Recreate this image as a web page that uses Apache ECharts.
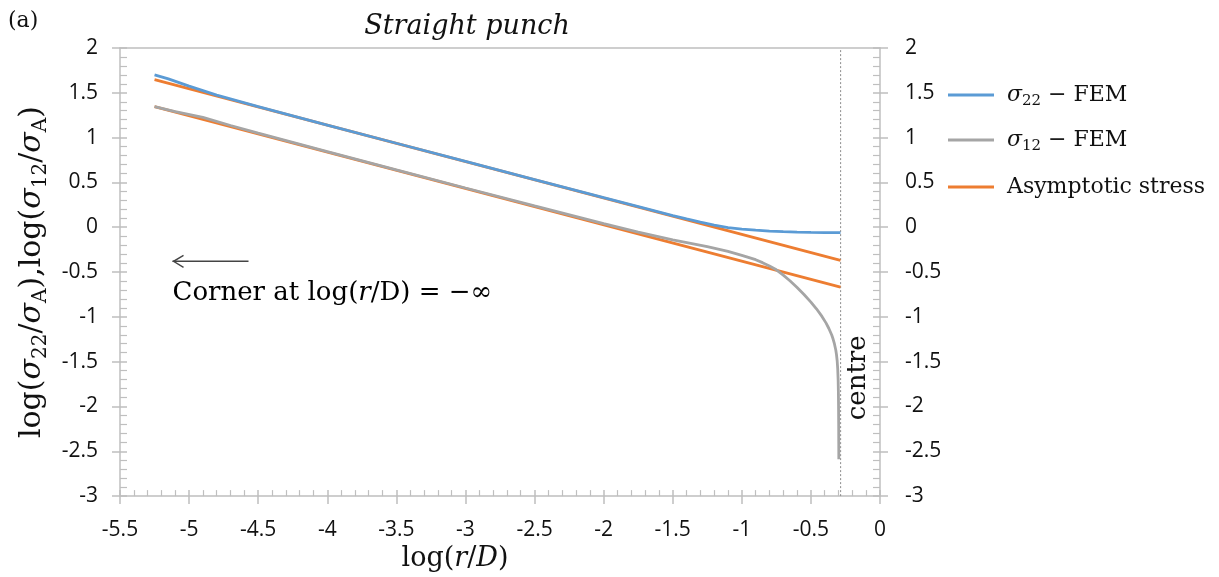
<!DOCTYPE html>
<html>
<head>
<meta charset="utf-8">
<script src="https://cdn.jsdelivr.net/npm/echarts@6/dist/echarts.min.js"></script>
<style>
  html, body { margin: 0; padding: 0; background: #ffffff; }
  #chart { width: 1219px; height: 577px; }
</style>
</head>
<body>
<div id="chart"></div>
<script>
// Axis ranges (log10 scale on both axes)
const xRange = [-5.5, 0];
const yRange = [-3, 2];
const axisStep = 0.5;

// sigma_22 from the FEM model, sampled along log(r/D)
const s22X = [-5.25, -5.15, -5.0, -4.8, -4.5, -4.0, -3.5, -3.0, -2.5, -2.0, -1.7, -1.5, -1.4, -1.3, -1.2, -1.1, -1.0, -0.9, -0.8, -0.7, -0.6, -0.5, -0.4, -0.286];
const s22Y = [1.70, 1.655, 1.575, 1.475, 1.345, 1.14, 0.937, 0.735, 0.532, 0.33, 0.21, 0.13, 0.093, 0.057, 0.024, -0.004, -0.02, -0.033, -0.043, -0.05, -0.055, -0.058, -0.06, -0.061];

// sigma_12 from the FEM model
const s12X = [-5.25, -5.1, -4.9, -4.7, -4.5, -4.0, -3.5, -3.0, -2.5, -2.0, -1.75, -1.5, -1.25, -1.1, -1.0, -0.9, -0.85, -0.8, -0.75, -0.7, -0.65, -0.6, -0.55, -0.5, -0.46, -0.42, -0.39, -0.37, -0.35, -0.34, -0.33, -0.32, -0.315, -0.31, -0.306, -0.303, -0.301, -0.3, -0.299, -0.2985, -0.298];
const s12Y = [1.345, 1.29, 1.225, 1.135, 1.05, 0.843, 0.64, 0.438, 0.238, 0.04, -0.055, -0.14, -0.217, -0.27, -0.313, -0.362, -0.395, -0.432, -0.475, -0.535, -0.60, -0.672, -0.75, -0.835, -0.91, -0.995, -1.07, -1.13, -1.20, -1.245, -1.30, -1.37, -1.42, -1.49, -1.58, -1.70, -1.85, -2.0, -2.2, -2.4, -2.59];

// Asymptotic (singular) stress lines, end points
const asymX = [-5.25, -0.286];
const asymUpperY = [1.646, -0.369];
const asymLowerY = [1.347, -0.668];

// Position of the punch centre
const centreX = -0.285;

// Annotation anchors in data coordinates
const arrowFrom = [-4.57, -0.38];
const arrowTo = [-5.12, -0.38];
const cornerTextAt = [-5.12, -0.74];
const centreTextAt = [-0.16, -1.68];

const BLUE = '#5B9BD5';
const GREY = '#A5A5A5';
const ORANGE = '#ED7D31';
const AXIS = '#BFBFBF';
const SERIF = 'DejaVu Serif';
const SANS = 'Open Sans';

const pairs = (xs, ys) => xs.map((x, i) => [x, ys[i]]);

const mathRich = (size) => ({
  n: { fontFamily: SERIF, fontSize: size, color: '#111' },
  i: { fontFamily: SERIF, fontStyle: 'italic', fontSize: size, color: '#111' },
  s: { fontFamily: SERIF, fontSize: Math.round(size * 0.68), color: '#111', padding: [Math.round(size * 0.6), 0, 0, 0] }
});

const axisLineStyle = { color: AXIS, width: 1.5 };

function valueAxis(extra) {
  return Object.assign({
    type: 'value',
    interval: axisStep,
    splitLine: { show: false },
    minorSplitLine: { show: false }
  }, extra);
}

const xAxes = [
  valueAxis({
    position: 'bottom', min: xRange[0], max: xRange[1],
    axisLine: { show: true, onZero: false, lineStyle: axisLineStyle },
    axisTick: { show: true, inside: true, length: 6, lineStyle: axisLineStyle },
    minorTick: { show: true, splitNumber: 5, length: 6, lineStyle: { color: AXIS, width: 1.2 } },
    axisLabel: { fontFamily: SANS, fontSize: 21, color: '#111', margin: 23 },
    name: '{n|log(}{i|r}{n|/}{i|D}{n|)}',
    nameLocation: 'middle',
    nameGap: 40,
    nameTextStyle: { rich: mathRich(27), padding: [0, 90, 0, 0] }
  }),
  valueAxis({
    position: 'bottom', min: xRange[0], max: xRange[1],
    axisLine: { show: false, onZero: false },
    axisTick: { show: true, inside: false, length: 8, lineStyle: axisLineStyle },
    axisLabel: { show: false }
  }),
  valueAxis({
    position: 'top', min: xRange[0], max: xRange[1],
    axisLine: { show: true, onZero: false, lineStyle: axisLineStyle },
    axisTick: { show: false },
    axisLabel: { show: false }
  })
];

const yAxes = [
  valueAxis({
    position: 'left', min: yRange[0], max: yRange[1],
    axisLine: { show: true, onZero: false, lineStyle: axisLineStyle },
    axisTick: { show: true, inside: true, length: 7, lineStyle: axisLineStyle },
    minorTick: { show: true, splitNumber: 5, length: 7, lineStyle: { color: AXIS, width: 1.2 } },
    axisLabel: { fontFamily: SANS, fontSize: 21, color: '#111', margin: 22 },
    name: '{n|log(}{i|σ}{s|22}{n|/}{i|σ}{s|A}{n|),log(}{i|σ}{s|12}{n|/}{i|σ}{s|A}{n|)}',
    nameLocation: 'middle',
    nameRotate: 90,
    nameGap: 60,
    nameTextStyle: { rich: mathRich(30) }
  }),
  valueAxis({
    position: 'left', min: yRange[0], max: yRange[1],
    axisLine: { show: false, onZero: false },
    axisTick: { show: true, inside: false, length: 8, lineStyle: axisLineStyle },
    axisLabel: { show: false }
  }),
  valueAxis({
    position: 'right', min: yRange[0], max: yRange[1],
    axisLine: { show: true, onZero: false, lineStyle: axisLineStyle },
    axisTick: { show: true, inside: true, length: 7, lineStyle: axisLineStyle },
    minorTick: { show: true, splitNumber: 5, length: 7, lineStyle: { color: AXIS, width: 1.2 } },
    axisLabel: { fontFamily: SANS, fontSize: 21, color: '#111', margin: 25 }
  }),
  valueAxis({
    position: 'right', min: yRange[0], max: yRange[1],
    axisLine: { show: false, onZero: false },
    axisTick: { show: true, inside: false, length: 8, lineStyle: axisLineStyle },
    axisLabel: { show: false }
  })
];

const lineSeries = (name, data, color, extra) => Object.assign({
  name: name,
  type: 'line',
  xAxisIndex: 0,
  yAxisIndex: 0,
  data: data,
  symbol: 'none',
  showSymbol: false,
  silent: true,
  lineStyle: { color: color, width: 2.8 },
  itemStyle: { color: color },
  z: 3
}, extra || {});

const legendNames = {
  'σ22 − FEM': '{i|σ}{s|22}{n| − FEM}',
  'σ12 − FEM': '{i|σ}{s|12}{n| − FEM}',
  'Asymptotic stress': '{n|Asymptotic stress}'
};

const legendRow = (name, top) => ({
  data: [name],
  orient: 'vertical',
  left: 943,
  top: top,
  icon: 'rect',
  itemWidth: 46,
  itemHeight: 3,
  itemGap: 0,
  selectedMode: false,
  formatter: (n) => legendNames[n],
  textStyle: { rich: mathRich(22), padding: [0, 0, 0, 8] }
});

const chart = echarts.init(document.getElementById('chart'), null, { renderer: 'canvas' });

chart.setOption({
  backgroundColor: '#ffffff',
  animation: false,
  grid: { left: 120, right: 339, top: 48, bottom: 77, containLabel: false },
  xAxis: xAxes,
  yAxis: yAxes,
  legend: [
    legendRow('σ22 − FEM', 79),
    legendRow('σ12 − FEM', 124),
    legendRow('Asymptotic stress', 171)
  ],
  series: [
    lineSeries('centre', [[centreX, yRange[0]], [centreX, yRange[1]]], '#8c8c8c', {
      lineStyle: { color: '#8c8c8c', width: 1, type: [2, 2] }, z: 1
    }),
    lineSeries('Asymptotic stress', pairs(asymX, asymUpperY), ORANGE),
    lineSeries('Asymptotic stress', pairs(asymX, asymLowerY), ORANGE),
    lineSeries('σ22 − FEM', pairs(s22X, s22Y), BLUE, { z: 4 }),
    lineSeries('σ12 − FEM', pairs(s12X, s12Y), GREY, { z: 4 })
  ]
});

// Annotations placed from data coordinates
const toPx = (p) => chart.convertToPixel({ xAxisIndex: 0, yAxisIndex: 0 }, p);
const a0 = toPx(arrowFrom);
const a1 = toPx(arrowTo);
const ct = toPx(cornerTextAt);
const cc = toPx(centreTextAt);

chart.setOption({
  graphic: [
    {
      type: 'text', left: 8, top: 10,
      style: { text: '(a)', font: '22px "' + SERIF + '"', fill: '#111' }
    },
    {
      type: 'text', x: 467, y: 27,
      style: {
        text: 'Straight punch', font: 'italic 27px "' + SERIF + '"', fill: '#111',
        align: 'center', verticalAlign: 'middle'
      }
    },
    {
      type: 'line',
      shape: { x1: a0[0], y1: a0[1], x2: a1[0], y2: a1[1] },
      style: { stroke: '#444', lineWidth: 1.4 }
    },
    {
      type: 'polyline',
      shape: { points: [[a1[0] + 11, a1[1] - 6], [a1[0] + 1, a1[1]], [a1[0] + 11, a1[1] + 6]] },
      style: { stroke: '#444', lineWidth: 1.4, fill: null }
    },
    {
      type: 'text', x: ct[0], y: ct[1],
      style: {
        text: '{n|Corner at log(}{i|r}{n|/D) = −∞}',
        rich: mathRich(26),
        align: 'left', verticalAlign: 'middle'
      }
    },
    {
      type: 'text', x: cc[0], y: cc[1], rotation: Math.PI / 2,
      style: {
        text: 'centre', font: '26px "' + SERIF + '"', fill: '#111',
        align: 'center', verticalAlign: 'middle'
      }
    }
  ]
});
</script>
</body>
</html>
